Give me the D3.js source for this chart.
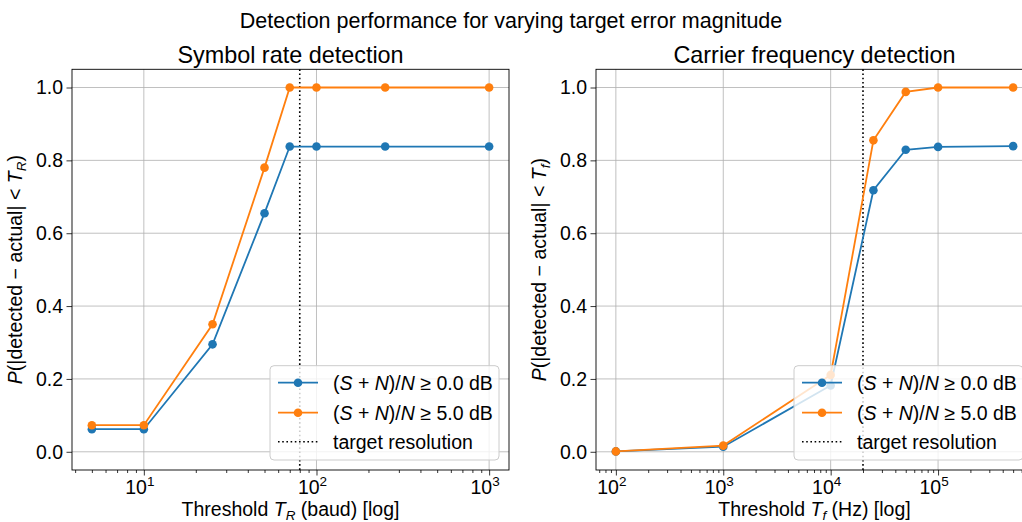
<!DOCTYPE html>
<html>
<head>
<meta charset="utf-8">
<script src="https://cdn.jsdelivr.net/npm/d3@7"></script>
<style>
  body { margin: 0; background: #fff; }
  svg { display: block; font-family: "Liberation Sans", Arial, sans-serif; }
  .grid line { stroke: #b0b0b0; stroke-width: 0.8; }
  .axis path { display: none; }
  .axis line { stroke: #000; stroke-width: 0.8; }
</style>
</head>
<body>
<script>
// data
const symbolThresholds = [5, 10, 25, 50, 70, 100, 250, 1000];
const symbolSnr0 = [0.062, 0.062, 0.295, 0.655, 0.838, 0.838, 0.838, 0.838];
const symbolSnr5 = [0.073, 0.073, 0.35, 0.78, 1.0, 1.0, 1.0, 1.0];

const carrierThresholds = [100, 1000, 10000, 25000, 50000, 100000, 500000];
const carrierSnr0 = [0.001, 0.014, 0.182, 0.718, 0.829, 0.837, 0.839];
const carrierSnr5 = [0.001, 0.017, 0.211, 0.855, 0.988, 1.0, 1.0];

const targetResolution = [80, 20000];
const yTicks = [0, 0.2, 0.4, 0.6, 0.8, 1.0];
const symbolDecades = [1, 2, 3];
const carrierDecades = [2, 3, 4, 5];
const seriesLabels = ["0.0", "5.0"];
const colors = ["#1f77b4", "#ff7f0e"];

const W = 1022, H = 522;
const svg = d3.select("body").append("svg").attr("width", W).attr("height", H);

svg.append("text").attr("x", 511).attr("y", 28).attr("text-anchor", "middle")
  .attr("font-size", 21.5).text("Detection performance for varying target error magnitude");

const plotTop = 69.3, plotBottom = 470;
const y = d3.scaleLinear().domain([-0.05, 1.05]).range([plotBottom, plotTop]);

function logDomain(xs) {
  let [a, b] = d3.extent(xs).map(Math.log10);
  let m = (b - a) * 0.05;
  return [Math.pow(10, a - m), Math.pow(10, b + m)];
}

function panel(opt) {
  const x = d3.scaleLog().domain(logDomain(opt.xs)).range([opt.left, opt.right]);
  const g = svg.append("g");
  const [lo, hi] = x.domain();

  // grid
  const grid = g.append("g").attr("class", "grid");
  grid.selectAll(".gx").data(opt.decades).join("line")
    .attr("x1", d => x(10 ** d)).attr("x2", d => x(10 ** d))
    .attr("y1", plotTop).attr("y2", plotBottom);
  grid.selectAll(".gy").data(yTicks).join("line")
    .attr("x1", opt.left).attr("x2", opt.right)
    .attr("y1", d => y(d)).attr("y2", d => y(d));

  // minor x ticks
  const minors = [];
  for (let e = Math.floor(Math.log10(lo)); e <= Math.ceil(Math.log10(hi)); e++)
    for (let k = 2; k <= 9; k++) {
      const v = k * 10 ** e;
      if (v >= lo && v <= hi) minors.push(v);
    }
  g.append("g").attr("class", "axis").attr("transform", `translate(0,${plotBottom})`)
    .call(d3.axisBottom(x).tickValues(minors).tickSize(3).tickFormat(() => ""));
  g.append("g").attr("class", "axis").attr("transform", `translate(0,${plotBottom})`)
    .call(d3.axisBottom(x).tickValues(opt.decades.map(d => 10 ** d)).tickSize(5.5).tickFormat(() => ""));
  g.append("g").attr("class", "axis").attr("transform", `translate(${opt.left},0)`)
    .call(d3.axisLeft(y).tickValues(yTicks).tickSize(5.5).tickFormat(() => ""));

  // x tick labels 10^n
  const xl = g.selectAll(".xl").data(opt.decades).join("text")
    .attr("x", d => x(10 ** d) - 4).attr("y", plotBottom + 23.5)
    .attr("text-anchor", "middle").attr("font-size", 19.5);
  xl.append("tspan").text("10");
  xl.append("tspan").attr("dy", -8).attr("font-size", 13.5).text(d => d);

  // y tick labels
  g.selectAll(".yl").data(yTicks).join("text")
    .attr("x", opt.left - 9).attr("y", d => y(d)).attr("dy", "0.35em")
    .attr("text-anchor", "end").attr("font-size", 19.5).text(d => d.toFixed(1));

  // spines
  g.append("rect").attr("x", opt.left).attr("y", plotTop)
    .attr("width", opt.right - opt.left).attr("height", plotBottom - plotTop)
    .attr("fill", "none").attr("stroke", "#000").attr("stroke-width", 0.9);

  // title
  g.append("text").attr("x", (opt.left + opt.right) / 2).attr("y", 62.5)
    .attr("text-anchor", "middle").attr("font-size", 23.4).text(opt.title);

  // x label
  const xt = g.append("text").attr("x", (opt.left + opt.right) / 2).attr("y", 516)
    .attr("text-anchor", "middle").attr("font-size", 19.5);
  xt.append("tspan").text("Threshold ");
  xt.append("tspan").attr("font-style", "italic").text("T");
  xt.append("tspan").attr("font-style", "italic").attr("font-size", 13.5).attr("dy", 4).text(opt.sub);
  xt.append("tspan").attr("dy", -4).text(" " + opt.unit + " [log]");

  // y label
  const yt = g.append("text")
    .attr("transform", `translate(${opt.left - 50},${(plotTop + plotBottom) / 2}) rotate(-90)`)
    .attr("text-anchor", "middle").attr("font-size", 19.5);
  yt.append("tspan").attr("font-style", "italic").text("P");
  yt.append("tspan").text("(|detected \u2212 actual| < ");
  yt.append("tspan").attr("font-style", "italic").text("T");
  yt.append("tspan").attr("font-style", "italic").attr("font-size", 13.5).attr("dy", 4).text(opt.sub);
  yt.append("tspan").attr("dy", -4).text(")");

  // target resolution
  g.append("line").attr("x1", x(opt.target)).attr("x2", x(opt.target))
    .attr("y1", plotTop).attr("y2", plotBottom)
    .attr("stroke", "#000").attr("stroke-width", 1.6).attr("stroke-dasharray", "1.6,2.6");

  // series
  const line = d3.line().x(d => x(d[0])).y(d => y(d[1]));
  opt.series.forEach((vals, i) => {
    const pts = opt.xs.map((v, j) => [v, vals[j]]);
    g.append("path").datum(pts).attr("d", line)
      .attr("fill", "none").attr("stroke", colors[i]).attr("stroke-width", 1.8);
    g.selectAll(null).data(pts).join("circle")
      .attr("cx", d => x(d[0])).attr("cy", d => y(d[1])).attr("r", 4.3)
      .attr("fill", colors[i]);
  });

  // legend
  const lx = opt.right - 239, ly = 365.7;
  const lg = g.append("g").attr("transform", `translate(${lx},${ly})`);
  lg.append("rect").attr("width", 229).attr("height", 94.3).attr("rx", 4)
    .attr("fill", "#fff").attr("fill-opacity", 0.8)
    .attr("stroke", "#cccccc").attr("stroke-width", 1);
  const rows = [17, 47, 76];
  seriesLabels.forEach((lab, i) => {
    lg.append("line").attr("x1", 8).attr("x2", 48).attr("y1", rows[i]).attr("y2", rows[i])
      .attr("stroke", colors[i]).attr("stroke-width", 1.8);
    lg.append("circle").attr("cx", 28).attr("cy", rows[i]).attr("r", 4.3).attr("fill", colors[i]);
    const t = lg.append("text").attr("x", 63).attr("y", rows[i]).attr("dy", "0.35em").attr("font-size", 19.5);
    t.append("tspan").text("(");
    t.append("tspan").attr("font-style", "italic").text("S");
    t.append("tspan").text(" + ");
    t.append("tspan").attr("font-style", "italic").text("N");
    t.append("tspan").text(")/");
    t.append("tspan").attr("font-style", "italic").text("N");
    t.append("tspan").text(" \u2265 " + lab + " dB");
  });
  lg.append("line").attr("x1", 8).attr("x2", 48).attr("y1", rows[2]).attr("y2", rows[2])
    .attr("stroke", "#000").attr("stroke-width", 1.6).attr("stroke-dasharray", "1.6,2.6");
  lg.append("text").attr("x", 63).attr("y", rows[2]).attr("dy", "0.35em")
    .attr("font-size", 19.5).text("target resolution");
}

panel({
  left: 72, right: 509, xs: symbolThresholds, series: [symbolSnr0, symbolSnr5],
  decades: symbolDecades, target: targetResolution[0],
  title: "Symbol rate detection", sub: "R", unit: "(baud)"
});
panel({
  left: 596, right: 1033, xs: carrierThresholds, series: [carrierSnr0, carrierSnr5],
  decades: carrierDecades, target: targetResolution[1],
  title: "Carrier frequency detection", sub: "f", unit: "(Hz)"
});
</script>
</body>
</html>
